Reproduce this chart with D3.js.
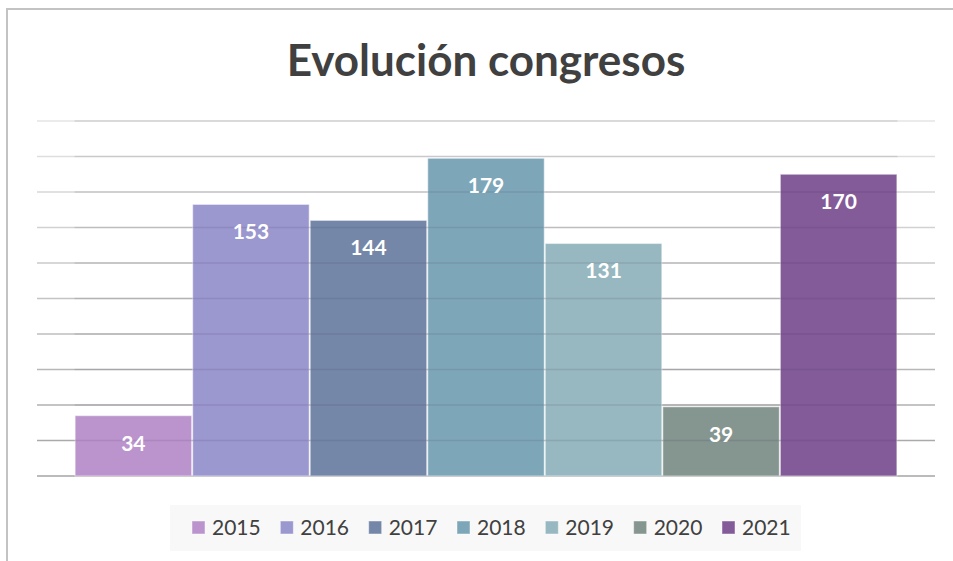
<!DOCTYPE html>
<html>
<head>
<meta charset="utf-8">
<script src="https://cdn.jsdelivr.net/npm/d3@7"></script>
<style>
  body { margin: 0; background: #fff; }
</style>
</head>
<body>
<svg id="chart" width="953" height="561"></svg>
<script>
// data
var years = ["2015", "2016", "2017", "2018", "2019", "2020", "2021"];
var values = [34, 153, 144, 179, 131, 39, 170];
var colors = ["#bb94cd", "#9b97cf", "#7587a8", "#7ea6b9", "#97b8c0", "#85958f", "#825b98"];
var yTicks = [0, 20, 40, 60, 80, 100, 120, 140, 160, 180, 200];

var svg = d3.select("#chart"),
    margin = {top: 121, right: 18, bottom: 85, left: 37},
    width = +svg.attr("width") - margin.left - margin.right,
    height = +svg.attr("height") - margin.top - margin.bottom;

// outer frame
svg.append("rect")
    .attr("x", 7).attr("y", 9)
    .attr("width", 1000).attr("height", 1000)
    .attr("fill", "#fff")
    .attr("stroke", "#c3c3c3")
    .attr("stroke-width", 2);

// title
svg.append("text")
    .attr("x", 486).attr("y", 76)
    .attr("text-anchor", "middle")
    .attr("font-family", "Lato")
    .attr("font-weight", "bold")
    .attr("font-size", 44)
    .attr("fill", "#404040")
    .text("Evolución congresos");

var g = svg.append("g").attr("transform", "translate(" + margin.left + "," + margin.top + ")");

var x = d3.scaleBand().domain(years).range([0, width]).paddingInner(0).paddingOuter(0.32);
var y = d3.scaleLinear().domain([0, 200]).range([height, 0]);
var shade = d3.scaleLinear().domain([0, 200]).range(["#a4a4a4", "#e4e4e4"]);

// gridlines
g.selectAll(".grid")
    .data(yTicks)
  .enter().append("line")
    .attr("x1", 0).attr("x2", width)
    .attr("y1", function(d) { return y(d); })
    .attr("y2", function(d) { return y(d); })
    .attr("stroke", function(d) { return shade(d); })
    .attr("stroke-width", 1.5);

// bars
g.selectAll(".bar")
    .data(values)
  .enter().append("rect")
    .attr("x", function(d, i) { return x(years[i]) + 0.5; })
    .attr("width", x.bandwidth() - 1)
    .attr("y", function(d) { return y(d); })
    .attr("height", function(d) { return height - y(d); })
    .attr("fill", function(d, i) { return colors[i]; })
    .attr("stroke", "rgba(255,255,255,0.45)")
    .attr("stroke-width", 1.2);

// gridlines showing through the bars
g.selectAll(".grid2")
    .data(yTicks.filter(function(d) { return d > 0; }))
  .enter().append("line")
    .attr("x1", x(years[0])).attr("x2", x(years[6]) + x.bandwidth())
    .attr("y1", function(d) { return y(d); })
    .attr("y2", function(d) { return y(d); })
    .attr("stroke", "rgba(60,40,70,0.12)")
    .attr("stroke-width", 1.5);

// value labels
g.selectAll(".label")
    .data(values)
  .enter().append("text")
    .attr("x", function(d, i) { return x(years[i]) + x.bandwidth() / 2; })
    .attr("y", function(d) { return y(d) + 35; })
    .attr("text-anchor", "middle")
    .attr("font-family", "Lato")
    .attr("font-weight", "bold")
    .attr("font-size", 21)
    .attr("fill", "#fff")
    .text(function(d) { return d; });

// legend
svg.append("rect")
    .attr("x", 170).attr("y", 505)
    .attr("width", 631).attr("height", 46)
    .attr("fill", "#f8f8f8");

var lx = d3.scalePoint().domain(years).range([192, 722]);
var item = svg.selectAll(".legend")
    .data(years)
  .enter().append("g")
    .attr("transform", function(d) { return "translate(" + lx(d) + ",521)"; });

item.append("rect")
    .attr("width", 13).attr("height", 13)
    .attr("fill", function(d, i) { return colors[i]; })
    .attr("stroke", "rgba(255,255,255,0.45)");

item.append("text")
    .attr("x", 20).attr("y", 14)
    .attr("font-family", "Lato")
    .attr("font-size", 21)
    .attr("fill", "#404040")
    .text(function(d) { return d; });
</script>
</body>
</html>
